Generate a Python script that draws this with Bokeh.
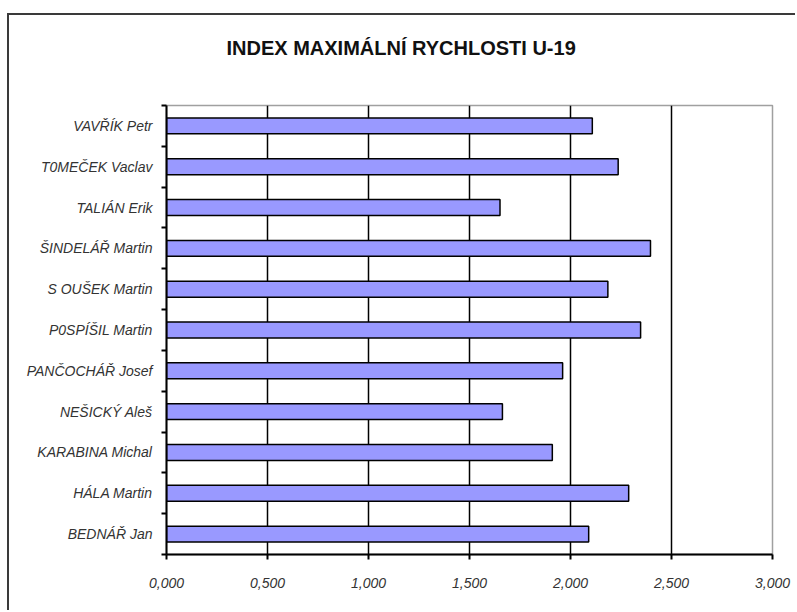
from bokeh.plotting import figure
from bokeh.models import FixedTicker, Range1d, Title, LinearAxis
from bokeh.embed import file_html
from bokeh.resources import INLINE

# Players listed from the top row of the chart to the bottom row
players = [
    "VAVŘÍK Petr",
    "T0MEČEK Vaclav",
    "TALIÁN Erik",
    "ŠINDELÁŘ Martin",
    "S OUŠEK Martin",
    "P0SPÍŠIL Martin",
    "PANČOCHÁŘ Josef",
    "NEŠICKÝ Aleš",
    "KARABINA Michal",
    "HÁLA Martin",
    "BEDNÁŘ Jan",
]
speed_index = [2.108, 2.236, 1.651, 2.396, 2.185, 2.347, 1.961, 1.663, 1.910, 2.288, 2.090]

x_ticks = [0.0, 0.5, 1.0, 1.5, 2.0, 2.5, 3.0]
x_tick_labels = ["0,000", "0,500", "1,000", "1,500", "2,000", "2,500", "3,000"]
grid_ticks = [0.5, 1.0, 1.5, 2.0, 2.5]

title_text = "INDEX MAXIMÁLNÍ RYCHLOSTI U-19"

LABEL_FONT = "Liberation Sans"
TITLE_FONT = "Liberation Sans"

n = len(players)
rows = [n - i for i in range(n)]               # first player on the top row
boundaries = [k + 0.5 for k in range(n + 1)]   # tick marks between rows

p = figure(
    width=788, height=597,
    x_range=Range1d(0, 3), y_range=Range1d(0.5, n + 0.5),
    output_backend="svg", toolbar_location=None,
    min_border_left=157, min_border_right=25,
    min_border_top=90, min_border_bottom=58,
)
p.title = None
p.styles = {
    "margin-left": "7px",
    "margin-top": "13px",
    "border-left": "2px solid #3a3a3a",
    "border-top": "2px solid #3a3a3a",
}

# Empty strip between the heading and the plot area (one unlabelled, unpainted tick)
gap = LinearAxis(ticker=FixedTicker(ticks=[1.5]))
gap.major_label_overrides = {1.5: ""}
gap.major_label_text_font_size = "0px"
gap.axis_line_color = None
gap.major_tick_line_color = None
gap.minor_tick_line_color = None
gap.major_tick_in = 0
gap.major_tick_out = 28
gap.minor_tick_in = 0
gap.minor_tick_out = 0
gap.major_label_standoff = 0
p.add_layout(gap, "above")

# Heading above the strip
p.add_layout(Title(
    text=title_text, align="left", offset=60, standoff=38,
    text_font=TITLE_FONT, text_font_size="20px", text_font_style="bold",
    text_color="#111111",
), "above")

p.background_fill_color = "white"
p.border_fill_color = "white"
p.outline_line_color = "#a0a0a0"
p.outline_line_width = 1.5

# Bars
p.hbar(y=rows, left=0, right=speed_index, height=0.39,
       fill_color="#9999ff", line_color="black", line_width=1.5)

# Value axis
xaxis = p.below[0]
xaxis.ticker = FixedTicker(ticks=x_ticks)
xaxis.major_label_overrides = dict(zip(x_ticks, x_tick_labels))
xaxis.axis_line_color = "black"
xaxis.axis_line_width = 2
xaxis.major_tick_in = 0
xaxis.major_tick_out = 5
xaxis.major_tick_line_color = "black"
xaxis.major_tick_line_width = 2
xaxis.minor_tick_line_color = None
xaxis.major_label_standoff = 18
xaxis.major_label_text_font = LABEL_FONT
xaxis.major_label_text_font_style = "italic"
xaxis.major_label_text_font_size = "14px"
xaxis.major_label_text_color = "#333333"

# Category axis: names on the rows, tick marks between them
p.yaxis.ticker = FixedTicker(ticks=rows, minor_ticks=boundaries)
p.yaxis.major_label_overrides = dict(zip(rows, players))
p.yaxis.axis_line_color = "black"
p.yaxis.axis_line_width = 2
p.yaxis.major_tick_line_color = None
p.yaxis.major_tick_in = 0
p.yaxis.major_tick_out = 0
p.yaxis.minor_tick_in = 0
p.yaxis.minor_tick_out = 5
p.yaxis.minor_tick_line_color = "black"
p.yaxis.minor_tick_line_width = 2
p.yaxis.major_label_standoff = 9
p.yaxis.major_label_text_font = LABEL_FONT
p.yaxis.major_label_text_font_style = "italic"
p.yaxis.major_label_text_font_size = "14px"
p.yaxis.major_label_text_color = "#333333"

# Gridlines
p.xgrid.ticker = FixedTicker(ticks=grid_ticks)
p.xgrid.grid_line_color = "black"
p.xgrid.grid_line_width = 1.5
p.ygrid.grid_line_color = None

open("out.html", "w").write(file_html(p, INLINE))
